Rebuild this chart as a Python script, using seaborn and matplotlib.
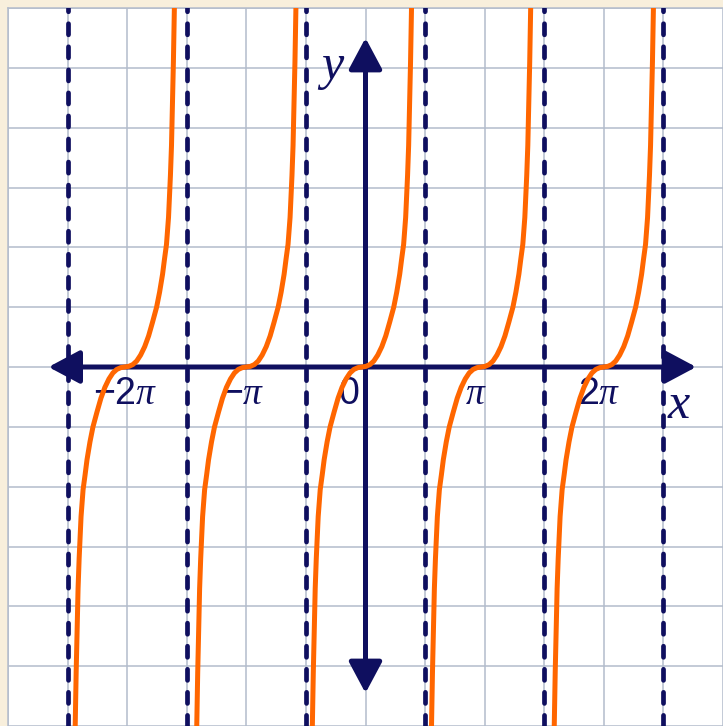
import numpy as np
import pandas as pd
import matplotlib
matplotlib.use("Agg")
import matplotlib.pyplot as plt
import seaborn as sns

# Branch shape (x in units of pi from the branch centre, y in grid units)
half_dx = [0, 0.033, 0.067, 0.10, 0.133, 0.167, 0.20, 0.233, 0.267, 0.292,
           0.317, 0.333, 0.35, 0.367, 0.383, 0.392, 0.40, 0.408, 0.417]
half_y = [0, 0.01, 0.04, 0.10, 0.20, 0.34, 0.52, 0.75, 1.00, 1.25,
          1.55, 1.80, 2.05, 2.50, 3.20, 3.70, 4.40, 5.10, 6.10]

# Centres of the five branches (units of pi)
branch_centres = [-2.02, -1.0, -0.03, 0.97, 2.0]

# Vertical asymptotes (units of pi)
asymptotes = [-2.5, -1.5, -0.5, 0.5, 1.5, 2.5]

# Tick labels on the x axis
tick_pos = [-2.02, -1.03, -0.14, 0.925, 1.96]
tick_text = [r"$-2\pi$", r"$-\pi$", r"$0$", r"$\pi$", r"$2\pi$"]

# Arrow extents of the two axes
x_axis_ends = [-2.66, 2.775]
y_axis_ends = [-5.45, 5.5]

navy = "#0f0f5f"
orange = "#ff6600"
grid_col = "#b3bccc"

# Step 1: build the table of curve points
rows = []
for b, c in enumerate(branch_centres):
    dx = [-d for d in half_dx[::-1]] + half_dx[1:]
    yy = [-v for v in half_y[::-1]] + half_y[1:]
    for d, v in zip(dx, yy):
        rows.append({"branch": b, "x": c + d, "y": v})
curves = pd.DataFrame(rows)

# Step 2: style
sns.set_style("white")
plt.rcParams["mathtext.fontset"] = "custom"
plt.rcParams["mathtext.rm"] = "Liberation Sans"
plt.rcParams["mathtext.it"] = "Liberation Serif:italic"
plt.rcParams["lines.scale_dashes"] = False

fig = plt.figure(figsize=(7.23, 7.26), dpi=100, facecolor="#f8efdc")
ax = fig.add_axes([8 / 723, 0, 715 / 723, 718 / 726])
ax.set_facecolor("white")

ax.set_xlim(-2.99, -2.99 + 715 / 120)
ax.set_ylim(6.0 - 718 / 60, 6.0)

ax.set_xticks(np.arange(-3, 3.01, 0.5))
ax.set_yticks(np.arange(-6, 6.01, 1))
ax.grid(True, color=grid_col, lw=1.1)
ax.tick_params(length=0, labelbottom=False, labelleft=False)
for side in ["right", "bottom"]:
    ax.spines[side].set_visible(False)
for side in ["left", "top"]:
    ax.spines[side].set_color(grid_col)
    ax.spines[side].set_linewidth(1.1)

# Step 3: asymptotes
for a in asymptotes:
    ax.axvline(a, color=navy, lw=3.4, dashes=(8.0, 8.6), dash_capstyle="round", zorder=3)

# Step 4: axes with arrows
arrow_kw = dict(arrowstyle="<|-|>,head_length=0.6,head_width=0.32", color=navy, lw=3.6,
                mutation_scale=32, shrinkA=0, shrinkB=0)
ax.annotate("", xy=(x_axis_ends[1], 0), xytext=(x_axis_ends[0], 0), arrowprops=arrow_kw, zorder=4)
ax.annotate("", xy=(0, y_axis_ends[1]), xytext=(0, y_axis_ends[0]), arrowprops=arrow_kw, zorder=4)

# Step 5: labels
for p, t in zip(tick_pos, tick_text):
    ax.text(p, -0.45, t, color=navy, fontsize=27, ha="center", va="center", zorder=2)
ax.text(2.63, -0.62, r"$x$", color=navy, fontsize=36, ha="center", va="center", zorder=2)
ax.text(-0.29, 5.0, r"$y$", color=navy, fontsize=36, ha="center", va="center", zorder=2)

# Step 6: the curves
sns.lineplot(data=curves, x="x", y="y", units="branch", estimator=None, sort=False,
             color=orange, lw=3.6, ax=ax, zorder=5, legend=False)
ax.set_xlabel("")
ax.set_ylabel("")

fig.savefig("out.png", dpi=100, facecolor=fig.get_facecolor())
